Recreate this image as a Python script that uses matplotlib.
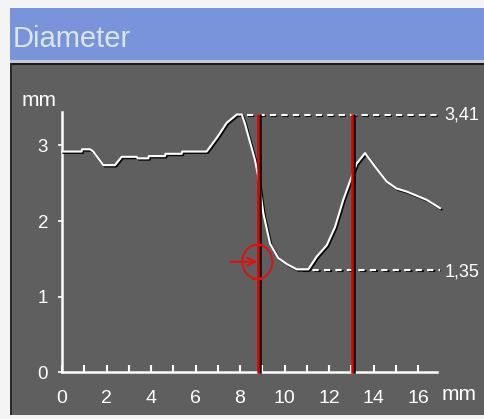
import matplotlib
matplotlib.use("Agg")
import matplotlib.pyplot as plt
import matplotlib.patheffects as pe
from matplotlib.patches import Rectangle, Ellipse

# ---- data ----
pos_mm = [0.0, 0.88, 0.9, 1.26, 1.41, 1.86, 2.38, 2.68, 3.36, 3.4, 3.88, 3.9, 4.63, 4.65,
          5.38, 5.4, 6.5, 7.0, 7.4, 7.85, 8.08, 8.22, 8.67, 8.82, 9.05, 9.35, 9.72,
          10.1, 10.55, 11.07, 11.45, 11.9, 12.27, 12.64, 13.02, 13.24, 13.62, 14.07,
          14.6, 15.04, 15.49, 16.39, 16.99]
diam_mm = [2.92, 2.92, 2.95, 2.95, 2.92, 2.74, 2.74, 2.85, 2.85, 2.83, 2.83, 2.86, 2.86, 2.89,
           2.89, 2.92, 2.92, 3.12, 3.30, 3.41, 3.41, 3.29, 2.81, 2.59, 2.10, 1.70, 1.51,
           1.43, 1.36, 1.36, 1.53, 1.68, 1.92, 2.28, 2.59, 2.76, 2.90, 2.72,
           2.52, 2.43, 2.39, 2.28, 2.17]
max_val = 3.41
min_val = 1.35
max_label = "3,41"
min_label = "1,35"
cursor_x = [8.8, 13.05]
marker_pt = (8.78, 1.46)
x_ticks = list(range(0, 17))
x_ticklabels = [str(t) if t % 2 == 0 else "" for t in x_ticks]
y_ticks = [0, 1, 2, 3]
y_ticklabels = ["0", "1", "2", "3"]
title = "Diameter"
unit = "mm"

W, H = 484, 419
fig = plt.figure(figsize=(W / 100, H / 100), dpi=100)
fig.patch.set_facecolor("#f4f4f4")

def fx(px):
    return px / W

def fy(py):
    return 1 - py / H

def rect(x0, y0, x1, y1, color):
    fig.add_artist(Rectangle((fx(x0), fy(y1)), fx(x1) - fx(x0), fy(y0) - fy(y1),
                             transform=fig.transFigure, facecolor=color,
                             edgecolor="none", zorder=0))

# title bar
rect(10, 8, W, 60, "#7a94dc")
rect(10, 60, W, 63, "#c4c8d0")
# panel
rect(10, 63, W, 415, "#5f5f5f")
rect(10, 63, W, 65, "#1a1a1a")
rect(10, 63, 12, 415, "#2a2a2a")

font = ["Liberation Sans", "DejaVu Sans"]
fig.text(fx(13), fy(47), title, fontsize=21, color="#dce6fa",
         family=font, va="baseline", ha="left")

# axes
ax = fig.add_axes([fx(62), fy(372), (16.85 * 22.25) / W, (3.45 * 75.5) / H])
ax.set_facecolor("none")
ax.set_xlim(0, 16.85)
ax.set_ylim(0, 3.45)
for s in ["top", "right"]:
    ax.spines[s].set_visible(False)
for s in ["left", "bottom"]:
    ax.spines[s].set_color("white")
    ax.spines[s].set_linewidth(1.8)

ax.set_xticks(x_ticks)
ax.set_xticklabels(x_ticklabels, family=font)
ax.set_yticks(y_ticks)
ax.set_yticklabels(y_ticklabels, family=font)
ax.tick_params(axis="x", direction="in", length=5, width=1.5, colors="white",
               labelsize=14, pad=13)
ax.tick_params(axis="y", direction="out", length=3, width=1.2, colors="white",
               labelsize=13.5, pad=7)

shadow = [pe.SimpleLineShadow(offset=(1, -1), shadow_color="black", alpha=0.9), pe.Normal()]

# dashed reference lines
ax.plot([8.3, 16.99], [max_val, max_val], color="white", lw=1.5,
        dashes=(3, 2.5), clip_on=False, path_effects=shadow, zorder=3)
ax.plot([10.75, 16.99], [min_val, min_val], color="white", lw=1.5,
        dashes=(3, 2.5), clip_on=False, path_effects=shadow, zorder=3)
ax.text(17.2, max_val, max_label, color="white", fontsize=13, family=font,
        va="center", ha="left", clip_on=False)
ax.text(17.2, min_val - 0.03, min_label, color="white", fontsize=13, family=font,
        va="center", ha="left", clip_on=False)

# curve
ax.plot(pos_mm, diam_mm, color="white", lw=1.5, clip_on=False,
        path_effects=shadow, zorder=4)

# cursors
red_shadow = [pe.SimpleLineShadow(offset=(1.5, 0), shadow_color="black", alpha=1.0), pe.Normal()]
for cx in cursor_x:
    ax.plot([cx, cx], [0, max_val], color="#e00000", lw=1.8, path_effects=red_shadow,
            zorder=5, clip_on=False)

# marker circle + arrow
ex, ey = marker_pt
ax.add_patch(Ellipse((ex, ey), 30 / 22.25, 34 / 75.5, facecolor="none",
                     edgecolor="#e01010", lw=1.4, zorder=6))
for dy in (17 / 75.5, -17 / 75.5):
    ax.plot([ex - 0.2, ex + 0.2], [ey + dy, ey + dy], color="#e01010", lw=1.5, zorder=6)
ax.annotate("", xy=(ex, ey), xytext=(ex - 27 / 22.25, ey),
            arrowprops=dict(arrowstyle="->", color="#e01010", lw=1.5,
                            shrinkA=0, shrinkB=0, mutation_scale=14), zorder=6)

# unit labels
fig.text(fx(22), fy(106), unit, color="white", fontsize=15, family=font,
         va="baseline", ha="left")
fig.text(fx(442), fy(400), unit, color="white", fontsize=15, family=font,
         va="baseline", ha="left")

fig.savefig("out.png", dpi=100, facecolor=fig.get_facecolor())
